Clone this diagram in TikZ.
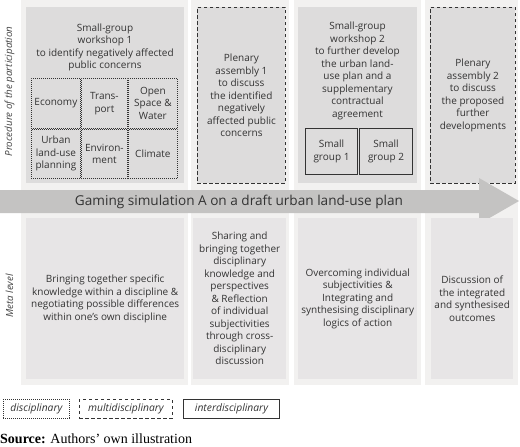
\documentclass[tikz,border=0pt]{standalone}
\usepackage{fontspec}
\setmainfont{Open Sans}
\newfontfamily\srcfont{Liberation Serif}
\definecolor{bgcol}{HTML}{F2F1F0}
\definecolor{upcol}{HTML}{DDDCDC}
\definecolor{lowcol}{HTML}{E7E5E6}
\definecolor{arrcol}{HTML}{C4C3C2}
\definecolor{txtcol}{HTML}{333333}
\definecolor{lblcol}{HTML}{444444}
\tikzset{
  txtfont/.style={font=\fontsize{10}{12.5}\selectfont},
  colbg/.style={fill=bgcol, draw=none, anchor=north west, inner sep=0pt},
  upbox/.style={fill=upcol, anchor=north west, inner sep=0pt, align=center, text=txtcol, txtfont},
  lowbox/.style={fill=lowcol, anchor=north west, inner sep=0pt, align=center, text=txtcol, txtfont},
  dashbox/.style={draw=txtcol, line width=0.9pt, dash pattern=on 3.4pt off 2.6pt},
  dotbox/.style={draw=txtcol, line width=0.8pt, dash pattern=on 0.8pt off 1.2pt},
  solbox/.style={draw=txtcol, line width=1pt},
  cell/.style={dotbox, anchor=north west, inner sep=0pt, align=center, text=txtcol, txtfont},
  sgbox/.style={solbox, anchor=north west, inner sep=0pt, align=center, text=txtcol, txtfont},
  sidelbl/.style={rotate=90, text=lblcol, font=\fontsize{9.8}{12}\selectfont\itshape},
  legbox/.style={anchor=north west, inner sep=0pt, text=txtcol, font=\fontsize{10.3}{11}\selectfont\itshape},
}
\begin{document}
\begin{tikzpicture}[x=1pt,y=-1pt]
\useasboundingbox (0,0) rectangle (520,447);
\fill[white] (0,0) rectangle (520,447);
% column backgrounds
\node[colbg, minimum width=167pt, minimum height=385pt] (bg1) at (21,0) {};
\node[colbg, minimum width=98pt, minimum height=385pt] (bg2) at (191,0) {};
\node[colbg, minimum width=127pt, minimum height=385pt] (bg3) at (294,0) {};
\node[colbg, minimum width=93pt, minimum height=385pt] (bg4) at (425,0) {};
% upper boxes
\node[upbox, minimum width=158pt, minimum height=176pt] (u1) at (26,7) {};
\node[text=txtcol, align=center, txtfont, anchor=north] (u1t) at (105,20)
  {Small-group\\workshop 1\\to identify negatively affected\\public concerns};
\node[upbox, dashbox, minimum width=88pt, minimum height=176pt] (u2) at (197,7)
  {Plenary\\assembly 1\\to discuss\\the identified\\negatively\\affected public\\concerns};
\node[upbox, minimum width=119pt, minimum height=176pt] (u3) at (298,7) {};
\node[text=txtcol, align=center, txtfont, anchor=north] (u3t) at (357.5,18.5)
  {Small-group\\workshop 2\\to further develop\\the urban land-\\use plan and a\\supplementary\\contractual\\agreement};
\node[upbox, dashbox, minimum width=85pt, minimum height=176pt] (u4) at (430,7)
  {Plenary\\assembly 2\\to discuss\\the proposed\\further\\developments};
% grid cells
\node[cell, minimum width=49pt, minimum height=50pt] (c11) at (31,78) {Economy};
\node[cell, minimum width=46pt, minimum height=50pt] (c12) at (81,78) {Trans-\\port};
\node[cell, minimum width=49pt, minimum height=50pt] (c13) at (128,78) {Open\\Space \&\\Water};
\node[cell, minimum width=49pt, minimum height=49pt] (c21) at (31,129) {Urban\\land-use\\planning};
\node[cell, minimum width=46pt, minimum height=49pt] (c22) at (81,129) {Environ-\\ment};
\node[cell, minimum width=49pt, minimum height=49pt] (c23) at (128,129) {Climate};
% small groups
\node[sgbox, minimum width=52pt, minimum height=46pt] (sg1) at (305,128) {Small\\group 1};
\node[sgbox, minimum width=53pt, minimum height=46pt] (sg2) at (359,128) {Small\\group 2};
% arrow
\fill[arrcol] (0,190) -- (479,190) -- (479,178) -- (519,201) -- (479,224) -- (479,213) -- (0,213) -- cycle;
\node[text=txtcol, font=\fontsize{13.6}{15}\selectfont] (arr) at (239,201.5) {Gaming simulation A on a draft urban land-use plan};
% lower boxes
\node[lowbox, minimum width=158pt, minimum height=161pt] (l1) at (26,218)
  {Bringing together specific\\knowledge within a discipline \&\\negotiating possible differences\\within one’s own discipline};
\node[lowbox, minimum width=93pt, minimum height=161pt] (l2) at (193,218)
  {Sharing and\\bringing together\\disciplinary\\knowledge and\\perspectives\\\& Reflection\\of individual\\subjectivities\\through cross-\\disciplinary\\discussion};
\node[lowbox, minimum width=119pt, minimum height=161pt] (l3) at (298,218)
  {Overcoming individual\\subjectivities \&\\Integrating and\\synthesising disciplinary\\logics of action};
\node[lowbox, minimum width=82pt, minimum height=161pt] (l4) at (431,218)
  {Discussion of\\the integrated\\and synthesised\\outcomes};
% side labels
\node[sidelbl] (s1) at (9.5,91.5) {Procedure of the participation};
\node[sidelbl] (s2) at (9.5,296) {Meta level};
% legend
\node[legbox, dotbox, minimum width=66pt, minimum height=18.5pt] (lg1) at (3,399) {\hbox to 66pt{\hss disciplinary\hss}};
\node[legbox, dashbox, minimum width=93pt, minimum height=18.5pt] (lg2) at (79,399) {\hbox to 93pt{\hss multidisciplinary\hss}};
\node[legbox, solbox, minimum width=96pt, minimum height=18.5pt] (lg3) at (183,399) {\hbox to 96pt{\hss interdisciplinary\hss}};
% source
\node[anchor=base west, inner sep=0pt, font=\srcfont\fontsize{14}{16}\selectfont] (src) at (0,443.5) {\textbf{Source:} Authors’ own illustration};
\end{tikzpicture}
\end{document}
